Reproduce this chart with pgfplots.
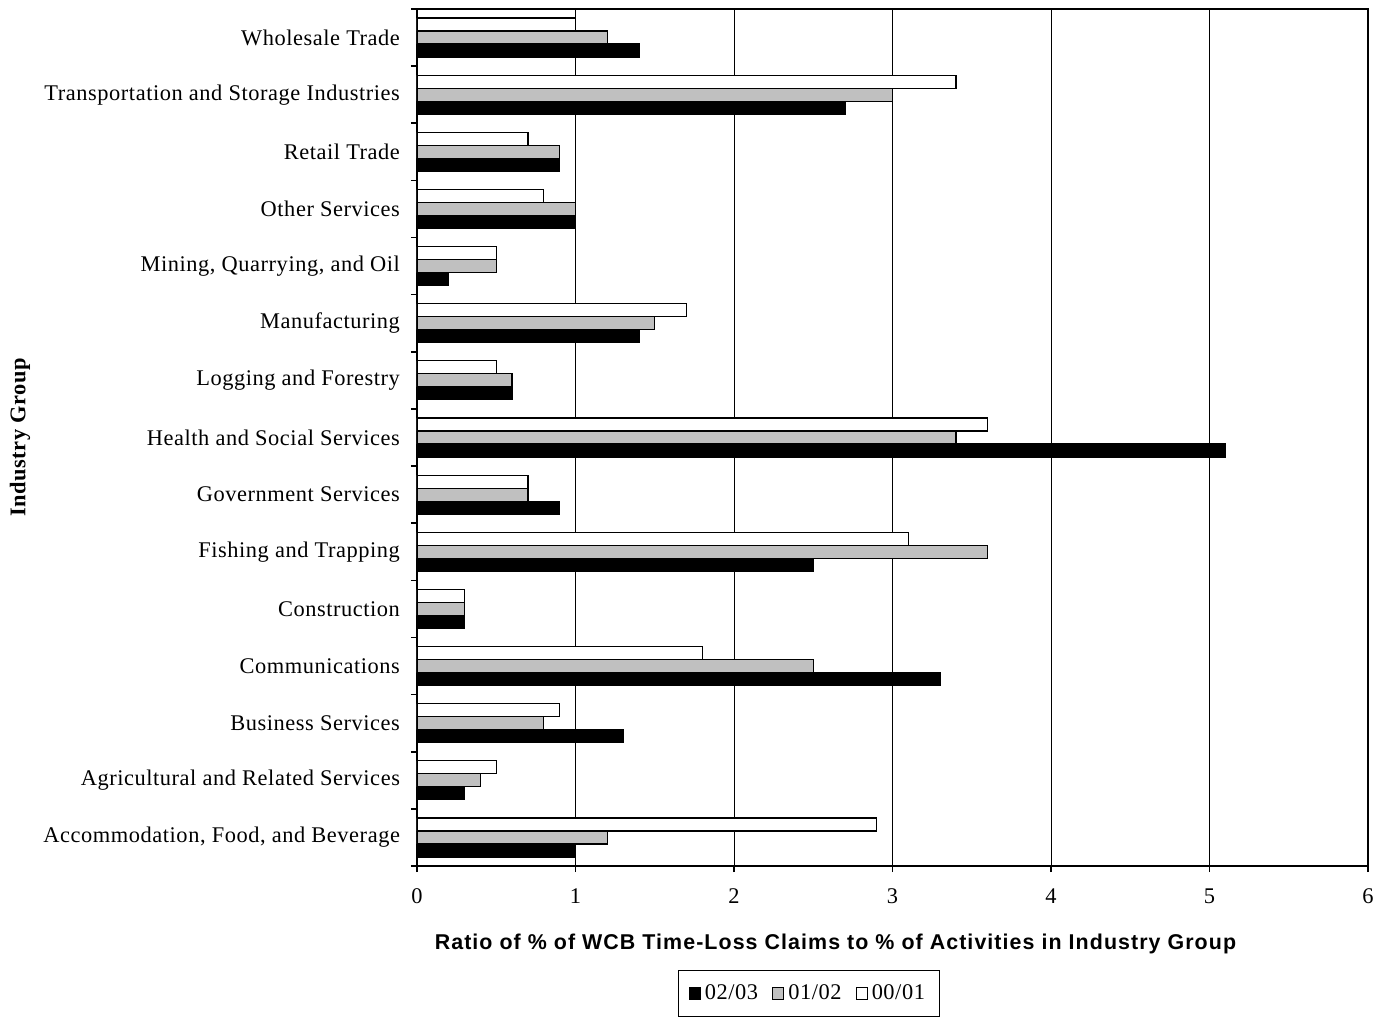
\documentclass[border=0pt]{standalone}
\usepackage{fontspec}
\setmainfont[LetterSpace=2.5]{Liberation Serif}
\newfontfamily\arialfont[LetterSpace=5]{Liberation Sans}
\usepackage{pgfplots}
\pgfplotsset{compat=1.18}

\definecolor{barGrey}{RGB}{192,192,192}

\begin{document}
\begin{tikzpicture}
\begin{axis}[
  scale only axis,
  width=475.5pt, height=428.5pt,
  xbar, bar width=6.5pt,
  xmin=0, xmax=6, ymin=-0.5, ymax=14.5,
  xtick={0,1,2,3,4,5,6},
  ytick={0,...,14},
  yticklabels={Accommodation{,} Food{,} and Beverage, Agricultural and Related Services, Business Services, Communications, Construction, Fishing and Trapping, Government Services, Health and Social Services, Logging and Forestry, Manufacturing, {Mining, Quarrying, and Oil}, Other Services, Retail Trade, Transportation and Storage Industries, Wholesale Trade},
  minor ytick={-0.5,0.5,...,14.5},
  xtick pos=bottom, ytick pos=left,
  major y tick style={draw=none},
  minor y tick style={black, line width=0.8pt},
  major x tick style={black, line width=0.8pt},
  tick align=outside,
  major tick length=3pt, minor tick length=3pt,
  xmajorgrids, major x grid style={black, line width=0.5pt},
  axis line style={black, line width=0.9pt},
  tick label style={font=\fontsize{11.2}{13}\selectfont},
  /pgf/number format/assume math mode=true,
  yticklabel style={xshift=-2pt},
  xticklabel style={yshift=-5pt},
  xlabel={\arialfont\bfseries Ratio of \% of WCB Time-Loss Claims to \% of Activities in Industry Group},
  xlabel style={font=\fontsize{10.7}{12}\selectfont, at={(axis description cs:0.44,0)}, anchor=center, yshift=-39pt},
  ylabel={\bfseries Industry Group},
  ylabel style={font=\fontsize{11.2}{13}\selectfont, at={(axis description cs:0,0.5)}, anchor=center, yshift=198.5pt},
  legend columns=3,
  legend style={at={(axis description cs:0.412,-0.121)}, anchor=north, draw=black, line width=0.5pt, font=\fontsize{11.2}{13}\selectfont, inner xsep=5pt, inner ysep=5pt, /tikz/every even column/.append style={column sep=5pt}},
  legend image code/.code={\draw[#1, line width=0.6pt] (0pt,-3pt) rectangle (5.5pt,3pt);},
]
% 02/03
\addplot[fill=black, draw=black, line width=0.6pt, bar shift=-6.5pt] coordinates {
  (1.0,0) (0.3,1) (1.3,2) (3.3,3) (0.3,4) (2.5,5) (0.9,6) (5.1,7)
  (0.6,8) (1.4,9) (0.2,10) (1.0,11) (0.9,12) (2.7,13) (1.4,14)};
% 01/02
\addplot[fill=barGrey, draw=black, line width=0.6pt, bar shift=0pt] coordinates {
  (1.2,0) (0.4,1) (0.8,2) (2.5,3) (0.3,4) (3.6,5) (0.7,6) (3.4,7)
  (0.6,8) (1.5,9) (0.5,10) (1.0,11) (0.9,12) (3.0,13) (1.2,14)};
% 00/01
\addplot[fill=white, draw=black, line width=0.6pt, bar shift=6.5pt] coordinates {
  (2.9,0) (0.5,1) (0.9,2) (1.8,3) (0.3,4) (3.1,5) (0.7,6) (3.6,7)
  (0.5,8) (1.7,9) (0.5,10) (0.8,11) (0.7,12) (3.4,13) (1.0,14)};
\legend{02/03, 01/02, 00/01}
\end{axis}
\path ([shift={(-208.5pt,-74.5pt)}]current axis.south west) rectangle ([shift={(10pt,4.5pt)}]current axis.north east);
\end{tikzpicture}
\end{document}
